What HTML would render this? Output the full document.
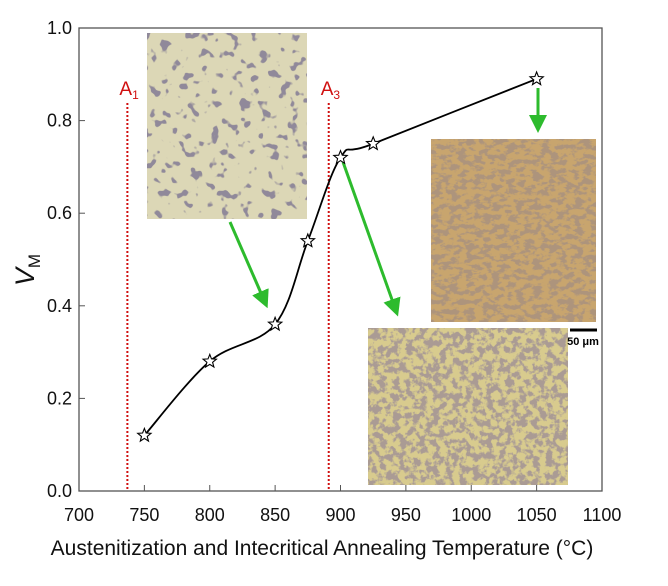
<!DOCTYPE html>
<html><head><meta charset="utf-8"><style>
body{margin:0;background:#fff;}
svg{display:block;font-family:"Liberation Sans","Noto Sans CJK SC",sans-serif;}
</style></head><body>
<svg width="668" height="586" viewBox="0 0 668 586">
<defs>
<filter id="t1" x="0" y="0" width="100%" height="100%"><feTurbulence type="fractalNoise" baseFrequency="0.1" numOctaves="2" seed="3"/><feColorMatrix type="matrix" values="0 0 0 0 0.28  0 0 0 0 0.25  0 0 0 0 0.32  0 0 0 -14 5.6"/><feComposite in2="SourceGraphic" operator="over"/></filter>
<filter id="t2" x="0" y="0" width="100%" height="100%"><feTurbulence type="fractalNoise" baseFrequency="0.12 0.2" numOctaves="3" seed="7"/><feColorMatrix type="matrix" values="0 0 0 0 0.42  0 0 0 0 0.3  0 0 0 0 0.2  0 0 0 -8 4.3"/><feComposite in2="SourceGraphic" operator="over"/></filter>
<filter id="t3" x="0" y="0" width="100%" height="100%"><feTurbulence type="fractalNoise" baseFrequency="0.15" numOctaves="3" seed="11"/><feColorMatrix type="matrix" values="0 0 0 0 0.4  0 0 0 0 0.33  0 0 0 0 0.3  0 0 0 -7 3.9"/><feComposite in2="SourceGraphic" operator="over"/></filter>
<marker id="ah" markerWidth="6" markerHeight="6" refX="3" refY="3" orient="auto" markerUnits="strokeWidth"><path d="M0,0 L6,3 L0,6 z" fill="#2dbb2d"/></marker>
</defs>
<g id="axes"></g>
<g><rect x="147" y="33" width="160" height="186" fill="#dcd7b6" filter="url(#t1)"/></g>
<g><rect x="431" y="139" width="165" height="183" fill="#c8a56e" filter="url(#t2)"/></g>
<g><rect x="368" y="328" width="200" height="157" fill="#d8cb8e" filter="url(#t3)"/></g>
<line x1="570" y1="330" x2="597" y2="330" stroke="#000" stroke-width="3"/>
<text x="583" y="345" font-size="11" font-weight="bold" text-anchor="middle">50 μm</text>
<g stroke="#2dbb2d" stroke-width="3">
<line x1="230" y1="222" x2="264" y2="300" marker-end="url(#ah)"/>
<line x1="343" y1="162" x2="395" y2="308" marker-end="url(#ah)"/>
<line x1="538" y1="88" x2="538" y2="124" marker-end="url(#ah)"/>
</g>
<g id="plot"></g>
</svg>
<script>
const temps=[750,800,850,875,900,925,1050];
const vm=[0.12,0.28,0.36,0.54,0.72,0.75,0.89];
const xTicks=[700,750,800,850,900,950,1000,1050,1100];
const yTicks=[0.0,0.2,0.4,0.6,0.8,1.0];
const A1=737, A3=891;
const X=v=>79+(v-700)*(602-79)/400;
const Y=v=>491-v*(491-28);
const NS="http://www.w3.org/2000/svg";
function mk(p,t,a){const e=document.createElementNS(NS,t);for(const k in a)e.setAttribute(k,a[k]);p.appendChild(e);return e;}
const ax=document.getElementById('axes'),pl=document.getElementById('plot');
let f=mk(ax,'rect',{x:79,y:28,width:523,height:463,fill:'none',stroke:'#555','stroke-width':1.3});


xTicks.forEach(t=>{
 let l=mk(ax,'line',{x1:X(t),x2:X(t),y1:491,y2:485,stroke:'#555'});
 
 
 let tx=mk(ax,'text',{x:X(t),y:521,'font-size':18,'text-anchor':'middle',fill:'#111'});tx.textContent=t;
 
 
});
yTicks.forEach(t=>{
 let l=mk(ax,'line',{x1:79,x2:85,y1:Y(t),y2:Y(t),stroke:'#555'});
 
 
 let tx=mk(ax,'text',{x:72,y:Y(t)+6,'font-size':18,'text-anchor':'end',fill:'#111'});tx.textContent=t.toFixed(1);
 
 
});
let xt=mk(ax,'text',{x:322,y:555,'font-size':21,'text-anchor':'middle',fill:'#111'});xt.textContent='Austenitization and Intecritical Annealing Temperature (°C)';


let yt=mk(ax,'text',{transform:'translate(34,270) rotate(-90)','font-size':27,'text-anchor':'middle',fill:'#111'});
yt.innerHTML='<tspan font-style="italic">V</tspan><tspan font-size="17" dy="6">M</tspan>';


[[A1,'A','1'],[A3,'A','3']].forEach(a=>{
 let l=mk(ax,'line',{x1:X(a[0]),x2:X(a[0]),y1:103,y2:491,stroke:'#d01010','stroke-width':2,'stroke-dasharray':'2 2'});
 
 
 let t=mk(ax,'text',{x:X(a[0])-8,y:95,'font-size':19,fill:'#d01010'});t.innerHTML='A<tspan font-size="12" dy="4">'+a[2]+'</tspan>';
 
 
});
// catmull-rom spline
const px=temps.map(X),py=vm.map(Y),n=px.length;
let s='M'+px[0]+','+py[0];
for(let i=0;i<n-1;i++){
 const x0=px[Math.max(i-1,0)],y0=py[Math.max(i-1,0)],x3=px[Math.min(i+2,n-1)],y3=py[Math.min(i+2,n-1)];
 const c1x=px[i]+(px[i+1]-x0)/6,c1y=py[i]+(py[i+1]-y0)/6,c2x=px[i+1]-(x3-px[i])/6,c2y=py[i+1]-(y3-py[i])/6;
 s+=' C'+c1x+','+c1y+' '+c2x+','+c2y+' '+px[i+1]+','+py[i+1];
}
let c=mk(pl,'path',{d:s,fill:'none',stroke:'#000','stroke-width':1.8});


function star(cx,cy){let p='';for(let k=0;k<10;k++){const r=k%2?3:7,a=-Math.PI/2+k*Math.PI/5;p+=(k?'L':'M')+(cx+r*Math.cos(a)).toFixed(1)+','+(cy+r*Math.sin(a)).toFixed(1);}return p+'Z';}
temps.forEach((t,i)=>{
 let p=mk(pl,'path',{d:star(X(t),Y(vm[i])),fill:'#fff',stroke:'#000','stroke-width':1.1});
 
 
});
</script>
</body></html>
